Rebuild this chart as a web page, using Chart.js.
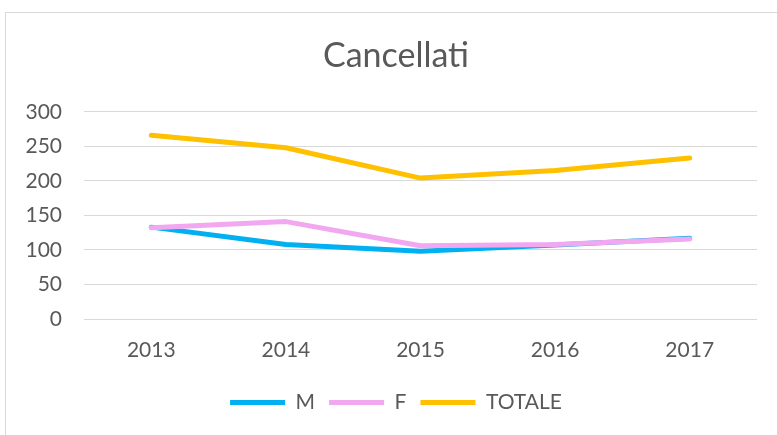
<!DOCTYPE html>
<html>
<head>
<meta charset="utf-8">
<script src="https://cdn.jsdelivr.net/npm/chart.js@4/dist/chart.umd.min.js"></script>
<style>
html,body{margin:0;padding:0;background:#fff;}
#wrap{position:absolute;left:0;top:0;width:777px;height:435px;}
</style>
</head>
<body>
<div id="wrap"><canvas id="c" width="777" height="435"></canvas></div>
<script>
const years = ['2013','2014','2015','2016','2017'];
const seriesM = [133, 108, 98, 107, 117];
const seriesF = [132, 141, 106, 108, 116];
const seriesTot = [266, 248, 204, 215, 233];
const yTicks = [0, 50, 100, 150, 200, 250, 300];

const frame = {
  id: 'frame',
  beforeDraw(chart) {
    const ctx = chart.ctx;
    ctx.save();
    ctx.fillStyle = '#fff';
    ctx.fillRect(0, 0, chart.width, chart.height);
    ctx.strokeStyle = '#d9d9d9';
    ctx.lineWidth = 1;
    ctx.strokeRect(5.5, 12.5, 900, 600);
    ctx.restore();
  }
};

const txt = '#595959';
const fam = 'Lato, "Open Sans", sans-serif';

new Chart(document.getElementById('c'), {
  type: 'line',
  data: {
    labels: years,
    datasets: [
      {label: 'M', data: seriesM, order: 3, borderColor: '#00B0F0', backgroundColor: '#00B0F0', borderWidth: 5, pointRadius: 0, borderCapStyle: 'round', borderJoinStyle: 'round', tension: 0},
      {label: 'F', data: seriesF, order: 2, borderColor: '#F2A8F0', backgroundColor: '#F2A8F0', borderWidth: 5, pointRadius: 0, borderCapStyle: 'round', borderJoinStyle: 'round', tension: 0},
      {label: 'TOTALE', data: seriesTot, order: 1, borderColor: '#FFC000', backgroundColor: '#FFC000', borderWidth: 5, pointRadius: 0, borderCapStyle: 'round', borderJoinStyle: 'round', tension: 0}
    ]
  },
  options: {
    responsive: false,
    animation: false,
    devicePixelRatio: 1,
    layout: {padding: {left: 20, right: 5, top: 15, bottom: 12}},
    plugins: {
      title: {display: true, text: 'Cancellati', color: txt, font: {family: fam, size: 34, weight: 'normal'}, padding: {top: 21, bottom: 35}},
      legend: {
        position: 'bottom',
        labels: {usePointStyle: true, pointStyle: 'line', pointStyleWidth: 55, boxHeight: 5, color: txt, padding: 14, font: {family: fam, size: 21},
          sort: (a, b) => a.datasetIndex - b.datasetIndex}
      },
      tooltip: {enabled: false}
    },
    scales: {
      x: {
        offset: true,
        grid: {display: false, drawTicks: false},
        border: {display: false},
        ticks: {color: txt, font: {family: fam, size: 21}, padding: 19},
        afterFit(axis) { axis.height = 59; }
      },
      y: {
        min: 0, max: 300,
        afterBuildTicks(axis) { axis.ticks = yTicks.map(v => ({value: v})); },
        grid: {color: '#d9d9d9', lineWidth: 1, drawTicks: false},
        border: {display: false},
        ticks: {color: txt, font: {family: fam, size: 21}, padding: 22},
        afterFit(axis) { axis.width = 64; }
      },
      yRight: {
        position: 'right',
        display: true,
        grid: {display: false, drawTicks: false},
        border: {display: false},
        ticks: {display: false},
        afterFit(axis) { axis.width = 15; }
      }
    }
  },
  plugins: [frame]
});
</script>
</body>
</html>
